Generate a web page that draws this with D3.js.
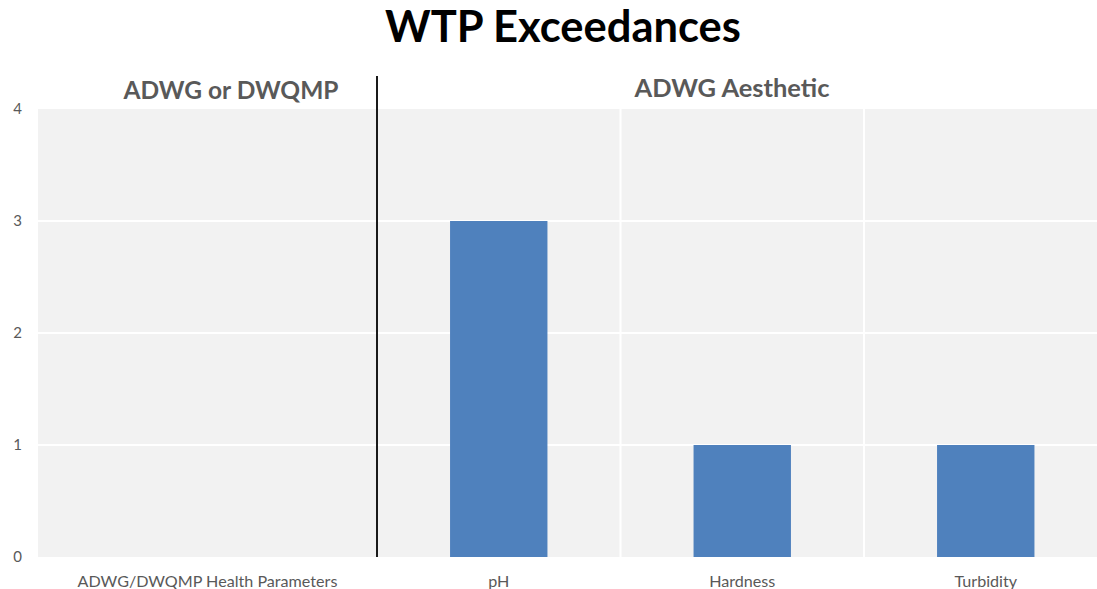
<!DOCTYPE html>
<html>
<head>
<meta charset="utf-8">
<script src="https://cdn.jsdelivr.net/npm/d3@7"></script>
<style>
  html, body { margin: 0; padding: 0; background: #fff; }
  svg { display: block; font-family: Lato, "Open Sans", sans-serif; }
</style>
</head>
<body>
<div id="chart"></div>
<script>
const title = "WTP Exceedances";
const healthCategories = ["ADWG/DWQMP Health Parameters"];
const healthValues = [0];
const aestheticCategories = ["pH", "Hardness", "Turbidity"];
const aestheticValues = [3, 1, 1];
const yTicks = [0, 1, 2, 3, 4];
const panelLabels = ["ADWG or DWQMP", "ADWG Aesthetic"];

const W = 1097, H = 589;
const plot = { left: 38, top: 109, bottom: 557, split: 377, right: 1107.5 };

const svg = d3.select("#chart").append("svg")
  .attr("width", W)
  .attr("height", H);

// shrink or grow a text's font size so it spans the wanted width
function fitText(sel, target) {
  const size = parseFloat(sel.style("font-size"));
  const w = sel.node().getComputedTextLength();
  sel.style("font-size", (size * target / w).toFixed(2) + "px");
}

const y = d3.scaleLinear().domain([0, 4]).range([plot.bottom, plot.top]);

const xLeft = d3.scaleBand()
  .domain(healthCategories)
  .range([plot.left, plot.split])
  .paddingInner(0.6).paddingOuter(0.3);

const xRight = d3.scaleBand()
  .domain(aestheticCategories)
  .range([plot.split, plot.right])
  .paddingInner(0.6).paddingOuter(0.3);

// plot background
svg.append("rect")
  .attr("x", plot.left)
  .attr("y", plot.top)
  .attr("width", W - plot.left)
  .attr("height", plot.bottom - plot.top)
  .attr("fill", "#f2f2f2");

// horizontal gridlines
svg.append("g").selectAll("line")
  .data(yTicks.filter(d => d > 0 && d < 4))
  .join("line")
  .attr("x1", plot.left).attr("x2", W)
  .attr("y1", d => y(d)).attr("y2", d => y(d))
  .attr("stroke", "#fff").attr("stroke-width", 2);

// vertical gridlines between aesthetic categories
const step = xRight.step();
svg.append("g").selectAll("line")
  .data(aestheticCategories.slice(1))
  .join("line")
  .attr("x1", d => xRight(d) - step * 0.6 / 2 * 1)
  .attr("x2", d => xRight(d) - step * 0.6 / 2 * 1)
  .attr("y1", plot.top).attr("y2", plot.bottom)
  .attr("stroke", "#fff").attr("stroke-width", 2);

// bars
svg.append("g").selectAll("rect")
  .data(healthCategories.map((c, i) => ({ c, v: healthValues[i] })))
  .join("rect")
  .attr("x", d => xLeft(d.c))
  .attr("y", d => y(d.v))
  .attr("width", xLeft.bandwidth())
  .attr("height", d => y(0) - y(d.v))
  .attr("fill", "#4f81bd");

svg.append("g").selectAll("rect")
  .data(aestheticCategories.map((c, i) => ({ c, v: aestheticValues[i] })))
  .join("rect")
  .attr("x", d => xRight(d.c))
  .attr("y", d => y(d.v))
  .attr("width", xRight.bandwidth())
  .attr("height", d => y(0) - y(d.v))
  .attr("fill", "#4f81bd");

// divider between the two groups
svg.append("line")
  .attr("x1", plot.split).attr("x2", plot.split)
  .attr("y1", 76).attr("y2", plot.bottom)
  .attr("stroke", "#1a1a1a").attr("stroke-width", 2);

// y tick labels
svg.append("g").selectAll("text")
  .data(yTicks)
  .join("text")
  .attr("x", 22)
  .attr("y", d => y(d))
  .attr("dy", "0.35em")
  .attr("text-anchor", "end")
  .style("font-size", "15px")
  .style("fill", "#595959")
  .text(d => d);

// category labels
const catLabels = svg.append("g");
const longLabel = catLabels.append("text")
  .attr("x", xLeft(healthCategories[0]) + xLeft.bandwidth() / 2)
  .attr("y", 587)
  .attr("text-anchor", "middle")
  .style("font-size", "15px")
  .style("fill", "#595959")
  .text(healthCategories[0]);
fitText(longLabel, 260);
const catSize = longLabel.style("font-size");

catLabels.selectAll("text.aes")
  .data(aestheticCategories)
  .join("text")
  .attr("class", "aes")
  .attr("x", d => xRight(d) + xRight.bandwidth() / 2)
  .attr("y", 587)
  .attr("text-anchor", "middle")
  .style("font-size", catSize)
  .style("fill", "#595959")
  .text(d => d);

// panel headings
const h1 = svg.append("text")
  .attr("x", 231).attr("y", 99)
  .attr("text-anchor", "middle")
  .style("font-size", "22px").style("font-weight", "700")
  .style("fill", "#595959")
  .text(panelLabels[0]);
fitText(h1, 215);

const h2 = svg.append("text")
  .attr("x", 732).attr("y", 97)
  .attr("text-anchor", "middle")
  .style("font-size", "22px").style("font-weight", "700")
  .style("fill", "#595959")
  .text(panelLabels[1]);
fitText(h2, 195);

// title
const t = svg.append("text")
  .attr("x", 563).attr("y", 42)
  .attr("text-anchor", "middle")
  .style("font-size", "40px").style("font-weight", "700")
  .style("fill", "#000")
  .text(title);
fitText(t, 356);
</script>
</body>
</html>
